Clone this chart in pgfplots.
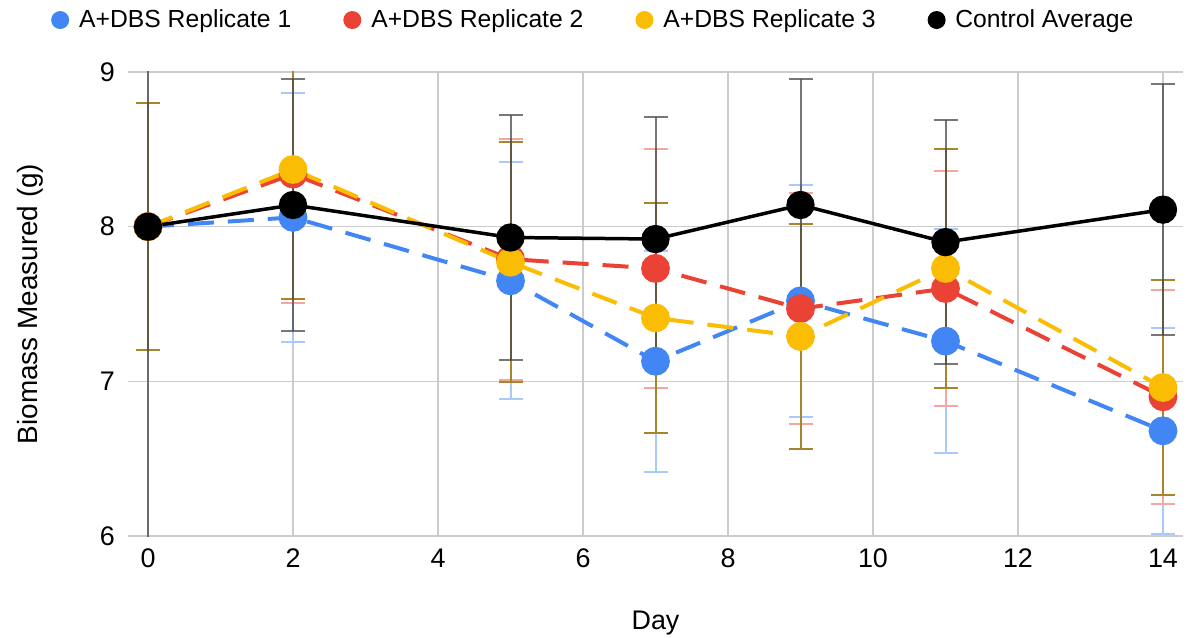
\documentclass[border=0pt]{standalone}
\usepackage{fontspec}
\setmainfont{Liberation Sans}
\usepackage{pgfplots}
\usepackage{pgfplotstable}
\pgfplotsset{compat=1.18}

\definecolor{gblue}{HTML}{4285F4}
\definecolor{gred}{HTML}{EA4335}
\definecolor{gyellow}{HTML}{FBBC04}
\definecolor{eblue}{HTML}{A9C8FB}
\definecolor{ered}{HTML}{F5A6A0}
\definecolor{eyellow}{HTML}{A8842A}
\definecolor{eblack}{HTML}{4A4A4A}
\definecolor{gridgray}{HTML}{CCCCCC}

% day, biomass, error (10 %)
\pgfplotstableread{
day y    err
0   8.00 0.800
2   8.06 0.806
5   7.65 0.765
7   7.13 0.713
9   7.52 0.752
11  7.26 0.726
14  6.68 0.668
}\repA
\pgfplotstableread{
day y    err
0   8.00 0.800
2   8.34 0.834
5   7.79 0.779
7   7.73 0.773
9   7.47 0.747
11  7.60 0.760
14  6.90 0.690
}\repB
\pgfplotstableread{
day y    err
0   8.00 0.800
2   8.37 0.837
5   7.77 0.777
7   7.41 0.741
9   7.29 0.729
11  7.73 0.773
14  6.96 0.696
}\repC
\pgfplotstableread{
day y    err
0   8.00 2.500
2   8.14 0.814
5   7.93 0.793
7   7.92 0.792
9   8.14 0.814
11  7.90 0.790
14  8.11 0.811
}\ctrl

\newcommand{\lbl}{\fontsize{13.5}{16}\selectfont}
\newcommand{\lgd}{\fontsize{12.4}{15}\selectfont}

\begin{document}
\begin{tikzpicture}
\useasboundingbox (-64bp,-51bp) rectangle (530.5bp,268bp);
\begin{axis}[
    at={(0,0)}, anchor=south west,
    scale only axis,
    width=527.5bp, height=232bp,
    xmin=-0.276, xmax=14.276,
    ymin=6, ymax=9,
    xtick={0,2,...,14}, ytick={6,7,8,9},
    grid=major,
    grid style={draw=gridgray, line width=0.75bp},
    axis line style={draw=none},
    major tick length=0pt,
    tick label style={font=\lbl},
    /pgf/number format/assume math mode=true,
    xticklabel style={yshift=-3bp},
    yticklabel style={xshift=-3bp},
    xlabel={Day}, ylabel={Biomass Measured (g)},
    label style={font=\lbl},
    xlabel style={at={(axis description cs:0.5,-0.1875)}, anchor=center},
    ylabel style={at={(axis description cs:-0.0929,0.5)}, anchor=center,
        font=\fontsize{14}{16}\selectfont},
    legend columns=4,
    legend cell align=left,
    legend style={at={(0.442,1.112)}, anchor=center, draw=none, fill=none,
        font=\lgd, /tikz/every even column/.append style={column sep=24bp}},
    legend image code/.code={\fill[#1, solid, draw=none] (4.5bp,0bp) circle (4.5bp);
        \path (11bp,0bp);},
]
% error bars first, so that lines and dots sit on top
\addplot[draw=none, forget plot, error bars/.cd, y dir=both, y explicit,
    error bar style={draw=eblue, line width=1bp}, error mark options={draw=eblue, line width=1bp, mark size=6bp, rotate=90}]
    table[x=day, y=y, y error=err] {\repA};
\addplot[draw=none, forget plot, error bars/.cd, y dir=both, y explicit,
    error bar style={draw=ered, line width=1bp}, error mark options={draw=ered, line width=1bp, mark size=6bp, rotate=90}]
    table[x=day, y=y, y error=err] {\repB};
\addplot[draw=none, forget plot, error bars/.cd, y dir=both, y explicit,
    error bar style={draw=eyellow, line width=1bp}, error mark options={draw=eyellow, line width=1bp, mark size=6bp, rotate=90}]
    table[x=day, y=y, y error=err] {\repC};
\addplot[draw=none, forget plot, error bars/.cd, y dir=both, y explicit,
    error bar style={draw=eblack, draw opacity=0.75, line width=1bp}, error mark options={draw=eblack, draw opacity=0.75, line width=1bp, mark size=6bp, rotate=90}]
    table[x=day, y=y, y error=err] {\ctrl};

\addplot[color=gblue, line width=2bp, dash pattern=on 13bp off 7bp,
    mark=*, mark size=6.2bp, mark options={solid, draw=none}]
    table[x=day, y=y] {\repA};
\addlegendentry{A+DBS Replicate 1}
\addplot[color=gred, line width=2bp, dash pattern=on 13bp off 7bp,
    mark=*, mark size=6.2bp, mark options={solid, draw=none}]
    table[x=day, y=y] {\repB};
\addlegendentry{A+DBS Replicate 2}
\addplot[color=gyellow, line width=2bp, dash pattern=on 13bp off 7bp,
    mark=*, mark size=6.2bp, mark options={solid, draw=none}]
    table[x=day, y=y] {\repC};
\addlegendentry{A+DBS Replicate 3}
\addplot[color=black, line width=1.75bp,
    mark=*, mark size=6.2bp, mark options={solid, draw=none}]
    table[x=day, y=y] {\ctrl};
\addlegendentry{Control Average}
\end{axis}
\end{tikzpicture}
\end{document}
